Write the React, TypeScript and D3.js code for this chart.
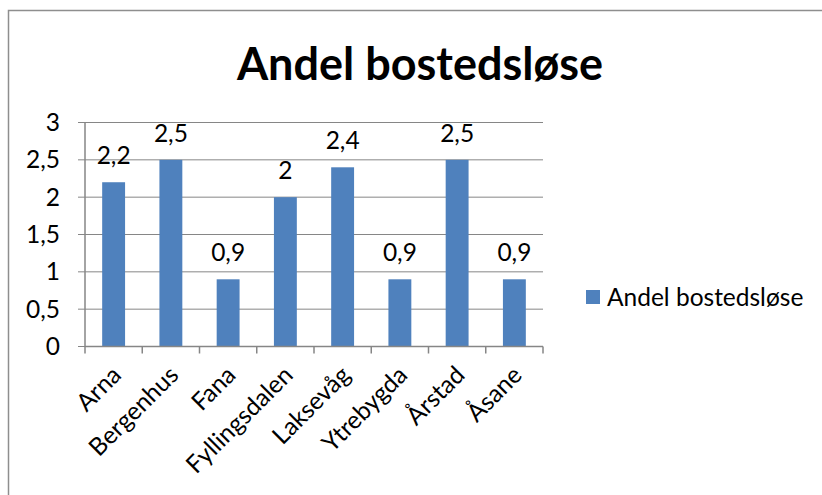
import React from 'react';
import * as d3 from 'd3';

const categories = ['Arna', 'Bergenhus', 'Fana', 'Fyllingsdalen', 'Laksevåg', 'Ytrebygda', 'Årstad', 'Åsane'];
const values = [2.2, 2.5, 0.9, 2, 2.4, 0.9, 2.5, 0.9];
const yTicks = [0, 0.5, 1, 1.5, 2, 2.5, 3];
const seriesName = 'Andel bostedsløse';
const title = 'Andel bostedsløse';

const fmt = (v: number) => String(v).replace('.', ',');

const App = () => {
  const width = 822;
  const height = 495;
  const plot = { left: 85, right: 543, top: 122.5, bottom: 346.5 };
  const font = 'Lato, "Open Sans", sans-serif';
  const barColor = '#4F81BD';
  const gridColor = '#868686';
  const fs = 24.5;

  const x = d3.scaleBand<string>()
    .domain(categories)
    .range([plot.left, plot.right])
    .paddingInner(0.6)
    .paddingOuter(0.3);
  const step = x.step();

  const y = d3.scaleLinear().domain([0, 3]).range([plot.bottom, plot.top]);

  return (
    <svg width={width} height={height} style={{ position: 'absolute', left: 0, top: 0 }} fontFamily={font}>
      <rect x={0} y={0} width={width} height={height} fill="#fff" />
      <rect x={8.5} y={10.5} width={900} height={600} fill="none" stroke="#8e8e8e" strokeWidth={1.5} />

      <text x={420} y={80} textAnchor="middle" fontSize={45} fontWeight="bold" fill="#000">{title}</text>

      {/* gridlines + y ticks */}
      {yTicks.map(t => (
        <g key={t}>
          <line x1={plot.left - 7} x2={plot.right} y1={y(t)} y2={y(t)} stroke={gridColor} strokeWidth={1} />
          <text x={60} y={y(t)} dy="0.35em" textAnchor="end" fontSize={fs} fill="#000">{fmt(t)}</text>
        </g>
      ))}

      {/* y axis */}
      <line x1={plot.left} x2={plot.left} y1={plot.top} y2={plot.bottom} stroke={gridColor} strokeWidth={1.5} />

      {/* bars */}
      {categories.map((c, i) => (
        <rect key={c} x={x(c)} y={y(values[i])} width={x.bandwidth()} height={plot.bottom - y(values[i])} fill={barColor} />
      ))}

      {/* data labels */}
      {categories.map((c, i) => (
        <text key={c} x={(x(c) as number) + x.bandwidth() / 2} y={y(values[i]) - 18} textAnchor="middle" fontSize={fs} fill="#000">
          {fmt(values[i])}
        </text>
      ))}

      {/* x axis */}
      <line x1={plot.left} x2={plot.right} y1={plot.bottom} y2={plot.bottom} stroke={gridColor} strokeWidth={1.5} />
      {d3.range(categories.length + 1).map(i => (
        <line key={i} x1={plot.left + i * step} x2={plot.left + i * step} y1={plot.bottom} y2={plot.bottom + 7} stroke={gridColor} strokeWidth={1.5} />
      ))}
      {categories.map(c => {
        const cx = (x(c) as number) + x.bandwidth() / 2;
        return (
          <text key={c} transform={`translate(${cx + 3},${plot.bottom + 24}) rotate(-45)`} textAnchor="end" dy="0.35em" fontSize={fs} fill="#000">
            {c}
          </text>
        );
      })}

      {/* legend */}
      <rect x={586} y={290} width={14} height={14} fill={barColor} />
      <text x={607} y={297} dy="0.35em" fontSize={fs} fill="#000">{seriesName}</text>
    </svg>
  );
};

export default App;
